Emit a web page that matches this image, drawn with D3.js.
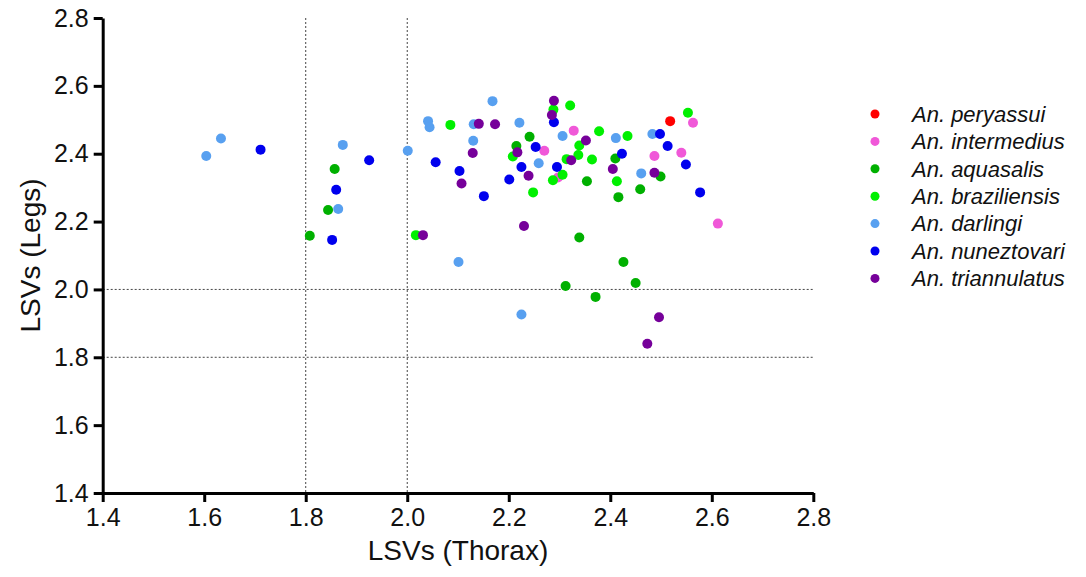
<!DOCTYPE html>
<html>
<head>
<meta charset="utf-8">
<script src="https://cdn.jsdelivr.net/npm/d3@7"></script>
<style>
  body { margin: 0; background: #fff; }
  svg { display: block; font-family: 'Liberation Sans', Arial, sans-serif; }
</style>
</head>
<body>
<svg id="chart"></svg>
<script>
const WIDTH = 1086;
const HEIGHT = 577;

// Points as [thorax LSV, legs LSV], one array per species.
const peryassui = [[2.518, 2.496]];
const intermedius = [
  [2.328, 2.468], [2.270, 2.409], [2.563, 2.491], [2.487, 2.393],
  [2.540, 2.403], [2.612, 2.194], [2.297, 2.330]
];
const aquasalis = [
  [1.808, 2.158], [1.844, 2.234], [1.857, 2.355], [2.241, 2.450],
  [2.215, 2.423], [2.410, 2.386], [2.499, 2.333], [2.354, 2.319],
  [2.459, 2.295], [2.416, 2.272], [2.339, 2.153], [2.426, 2.081],
  [2.312, 2.010], [2.450, 2.019], [2.371, 1.978]
];
const braziliensis = [
  [2.017, 2.160], [2.085, 2.485], [2.208, 2.392], [2.248, 2.286],
  [2.288, 2.530], [2.321, 2.542], [2.287, 2.322], [2.306, 2.338],
  [2.314, 2.384], [2.337, 2.396], [2.339, 2.424], [2.364, 2.383],
  [2.378, 2.466], [2.434, 2.452], [2.413, 2.319], [2.553, 2.521]
];
const darlingi = [
  [1.604, 2.393], [1.633, 2.445], [1.864, 2.237], [1.873, 2.426],
  [2.001, 2.409], [2.041, 2.496], [2.044, 2.478], [2.101, 2.081],
  [2.131, 2.487], [2.130, 2.438], [2.168, 2.555], [2.221, 2.491],
  [2.225, 1.926], [2.259, 2.372], [2.306, 2.452], [2.411, 2.446],
  [2.461, 2.342], [2.483, 2.458]
];
const nuneztovari = [
  [1.711, 2.412], [1.852, 2.146], [1.860, 2.294], [1.925, 2.381],
  [2.056, 2.375], [2.103, 2.349], [2.151, 2.275], [2.201, 2.324],
  [2.225, 2.361], [2.253, 2.420], [2.289, 2.493], [2.295, 2.361],
  [2.423, 2.400], [2.498, 2.458], [2.513, 2.423], [2.549, 2.368],
  [2.577, 2.286]
];
const triannulatus = [
  [2.031, 2.160], [2.107, 2.312], [2.129, 2.402], [2.141, 2.488],
  [2.173, 2.487], [2.217, 2.404], [2.230, 2.187], [2.239, 2.335],
  [2.289, 2.556], [2.285, 2.514], [2.323, 2.381], [2.352, 2.439],
  [2.405, 2.355], [2.487, 2.344], [2.496, 1.918], [2.473, 1.840]
];

const speciesNames = [
  'An. peryassui', 'An. intermedius', 'An. aquasalis', 'An. braziliensis',
  'An. darlingi', 'An. nuneztovari', 'An. triannulatus'
];
const speciesPoints = [
  peryassui, intermedius, aquasalis, braziliensis,
  darlingi, nuneztovari, triannulatus
];
const speciesColors = [
  '#ff0000', '#f058d8', '#00b000', '#00f000',
  '#58a0f0', '#0000ee', '#76009a'
];

const tickValues = [1.4, 1.6, 1.8, 2.0, 2.2, 2.4, 2.6, 2.8];
const refValues = [1.8, 2.0];

const svg = d3.select('#chart')
  .attr('width', WIDTH)
  .attr('height', HEIGHT)
  .attr('viewBox', `0 0 ${WIDTH} ${HEIGHT}`);

const x = d3.scaleLinear().domain([1.4, 2.8]).range([102.7, 813.3]);
const y = d3.scaleLinear().domain([1.4, 2.8]).range([493, 18]);

// Dotted reference lines.
const refs = svg.append('g')
  .attr('stroke', '#444')
  .attr('stroke-width', 1)
  .attr('stroke-dasharray', '2,2');

refs.selectAll('line.v')
  .data(refValues)
  .enter()
  .append('line')
  .attr('class', 'v')
  .attr('x1', d => x(d))
  .attr('x2', d => x(d))
  .attr('y1', y(2.8))
  .attr('y2', y(1.4));

refs.selectAll('line.h')
  .data(refValues)
  .enter()
  .append('line')
  .attr('class', 'h')
  .attr('x1', x(1.4))
  .attr('x2', x(2.8))
  .attr('y1', d => y(d))
  .attr('y2', d => y(d));

// Axes.
const fmt = d3.format('.1f');

const xAxis = svg.append('g')
  .attr('transform', `translate(0,${y(1.4)})`)
  .call(d3.axisBottom(x).tickValues(tickValues).tickFormat(fmt)
    .tickSize(9).tickSizeOuter(0).tickPadding(6));

const yAxis = svg.append('g')
  .attr('transform', `translate(${x(1.4)},0)`)
  .call(d3.axisLeft(y).tickValues(tickValues).tickFormat(fmt)
    .tickSize(9).tickSizeOuter(0).tickPadding(5));

for (const ax of [xAxis, yAxis]) {
  ax.select('.domain').attr('stroke', '#000').attr('stroke-width', 3);
  ax.selectAll('.tick line').attr('stroke', '#000').attr('stroke-width', 3);
  ax.selectAll('.tick text')
    .attr('fill', '#111')
    .style('font-size', '25px')
    .style('font-family', "'Liberation Sans', Arial, sans-serif");
}

// Axis titles.
svg.append('text')
  .attr('x', x(2.1))
  .attr('y', 560)
  .attr('text-anchor', 'middle')
  .style('font-size', '28px')
  .attr('fill', '#111')
  .text('LSVs (Thorax)');

svg.append('text')
  .attr('transform', `translate(40,${y(2.1)}) rotate(-90)`)
  .attr('text-anchor', 'middle')
  .style('font-size', '28px')
  .attr('fill', '#111')
  .text('LSVs (Legs)');

// Points, drawn in legend order so the last species sits on top.
speciesPoints.forEach((points, i) => {
  svg.append('g')
    .selectAll('circle')
    .data(points)
    .enter()
    .append('circle')
    .attr('cx', d => x(d[0]))
    .attr('cy', d => y(d[1]))
    .attr('r', 5)
    .attr('fill', speciesColors[i]);
});

// Legend.
const legend = svg.append('g').attr('transform', 'translate(875,114)');
const rows = legend.selectAll('g')
  .data(speciesNames)
  .enter()
  .append('g')
  .attr('transform', (d, i) => `translate(0,${i * 27.4})`);

rows.append('circle')
  .attr('r', 4.5)
  .attr('fill', (d, i) => speciesColors[i]);

rows.append('text')
  .attr('x', 37)
  .attr('dy', '0.35em')
  .style('font-size', '22px')
  .style('font-style', 'italic')
  .attr('fill', '#111')
  .text(d => d);
</script>
</body>
</html>
